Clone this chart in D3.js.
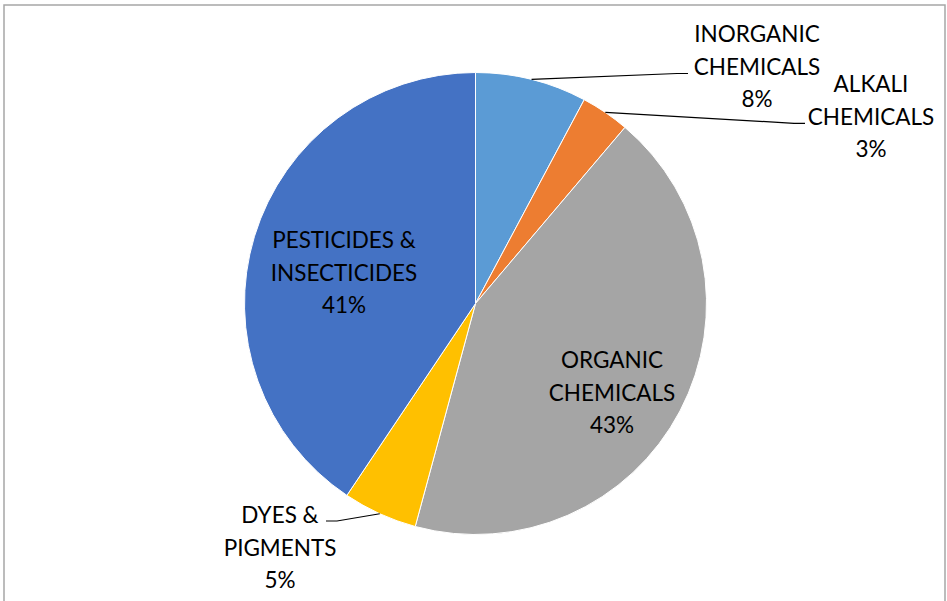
<!DOCTYPE html>
<html>
<head>
<meta charset="utf-8">
<script src="https://cdn.jsdelivr.net/npm/d3@7"></script>
<style>
  body { margin: 0; background: #fff; }
  text { font-family: Lato, "Liberation Sans", sans-serif; fill: #000; }
</style>
</head>
<body>
<div id="chart"></div>
<script>
// slice order, clockwise from 12 o'clock
var categories = ["INORGANIC CHEMICALS", "ALKALI CHEMICALS", "ORGANIC CHEMICALS", "DYES & PIGMENTS", "PESTICIDES & INSECTICIDES"];
var values = [7.8, 3.4, 43.0, 5.2, 40.6];
var pctLabels = ["8%", "3%", "43%", "5%", "41%"];
var labelLines = [["INORGANIC", "CHEMICALS"], ["ALKALI", "CHEMICALS"], ["ORGANIC", "CHEMICALS"], ["DYES &", "PIGMENTS"], ["PESTICIDES &", "INSECTICIDES"]];
var colors = ["#5B9BD5", "#ED7D31", "#A5A5A5", "#FFC000", "#4472C4"];

var width = 947, height = 601;
var cx = 475.5, cy = 303.5, radius = 231;

// label placement (center x, first baseline y) and leader flag
var labelPos = [
    {x: 757, y: 42, leader: {ex: 688, ey: 73.5, side: 1}},
    {x: 871, y: 92, leader: {ex: 805, ey: 123.3, side: 1}},
    {x: 612, y: 368},
    {x: 280, y: 523, leader: {ex: 326, ey: 521, side: -1}},
    {x: 344, y: 248}
];
var lineStep = 32.5;

var svg = d3.select("#chart").append("svg")
        .attr("width", width).attr("height", height);

// chart frame (bottom edge is cut off)
svg.append("path")
        .attr("d", "M4,610 L4,5 L945,5 L945,610")
        .attr("fill", "none")
        .attr("stroke", "#a6a6a6")
        .attr("stroke-width", 1.5);

var pie = d3.pie().sort(null).value(function (d) { return d; });
var arcs = pie(values);
var arc = d3.arc().innerRadius(0).outerRadius(radius);

var g = svg.append("g").attr("transform", "translate(" + cx + "," + cy + ")");

g.selectAll("path.slice")
        .data(arcs)
        .enter().append("path")
        .attr("class", "slice")
        .attr("d", arc)
        .attr("fill", function (d, i) { return colors[i]; })
        .attr("stroke", "#fff")
        .attr("stroke-width", 1);

// leader lines from the middle of the slice edge
arcs.forEach(function (d, i) {
    var lp = labelPos[i].leader;
    if (!lp)
        return;
    var a = (d.startAngle + d.endAngle) / 2;
    var px = cx + Math.sin(a) * radius;
    var py = cy - Math.cos(a) * radius;
    var elbowX = lp.ex - lp.side * 11;
    svg.append("polyline")
            .attr("points", [[px, py], [elbowX, lp.ey], [lp.ex, lp.ey]].map(function (p) { return p.join(","); }).join(" "))
            .attr("fill", "none")
            .attr("stroke", "#000")
            .attr("stroke-width", 1.2);
});

// data labels
categories.forEach(function (c, i) {
    var lines = labelLines[i].concat([pctLabels[i]]);
    var t = svg.append("text")
            .attr("text-anchor", "middle")
            .style("font-size", "22.5px");
    lines.forEach(function (s, k) {
        t.append("tspan")
                .attr("x", labelPos[i].x)
                .attr("y", labelPos[i].y + k * lineStep)
                .text(s);
    });
});
</script>
</body>
</html>
